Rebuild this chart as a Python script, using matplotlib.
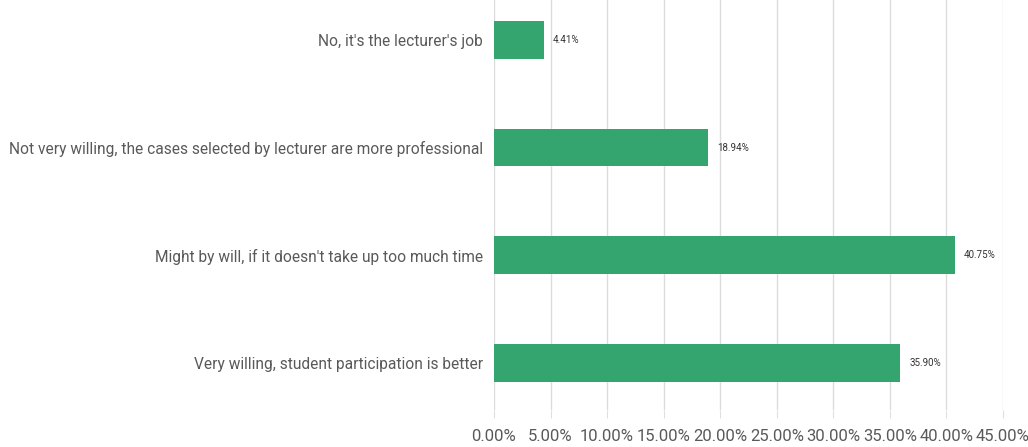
import matplotlib
matplotlib.use("Agg")
import matplotlib.pyplot as plt
from matplotlib.ticker import FuncFormatter

plt.rcParams['font.family'] = ['Roboto', 'DejaVu Sans']

# data
categories = [
    "No, it's the lecturer's job",
    "Not very willing, the cases selected by lecturer are more professional",
    "Might by will, if it doesn't take up too much time",
    "Very willing, student participation is better",
]
values = [4.41, 18.94, 40.75, 35.90]
xticks = [0, 5, 10, 15, 20, 25, 30, 35, 40, 45]

bar_color = '#34a56f'
text_gray = '#595959'

fig = plt.figure(figsize=(10.28, 4.47), dpi=100)
ax = fig.add_axes([0.4805, 0.0828, 0.4952, 0.9172])

pos = list(range(len(categories)))
ax.barh(pos, values, height=0.35, color=bar_color, zorder=3)

for p, v in zip(pos, values):
    ax.text(v + 0.8, p, f"{v:.2f}%", va='center', ha='left',
            fontsize=7, color='#333333', zorder=4)

ax.set_yticks(pos)
ax.set_yticklabels(categories, fontsize=11.2, color=text_gray)
ax.set_ylim(3.436, -0.371)

ax.set_xlim(0, 45)
ax.set_xticks(xticks)
ax.xaxis.set_major_formatter(FuncFormatter(lambda x, _: f"{x:.2f}%"))
ax.tick_params(axis='x', labelsize=12, labelcolor=text_gray, length=6,
               color='#e0e0e0', pad=8)
ax.tick_params(axis='y', length=0, pad=8)
ax.grid(axis='x', color='#dcdcdc', linewidth=1, zorder=0)

for s in ax.spines.values():
    s.set_visible(False)

fig.savefig('out.png', dpi=100)
